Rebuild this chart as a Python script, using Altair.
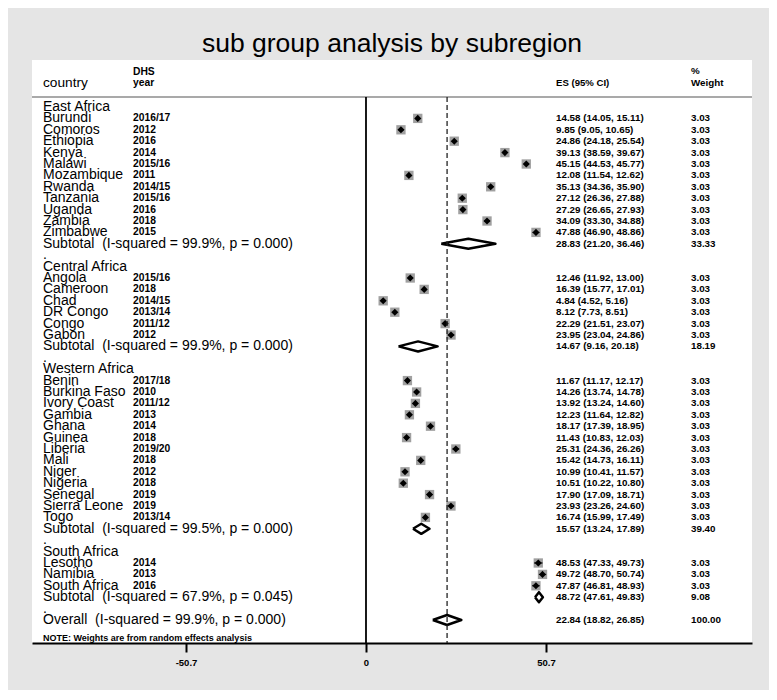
import altair as alt
import pandas as pd

FONT = "Liberation Sans"
TITLE = "sub group analysis by subregion"

# ---- data -------------------------------------------------------------------
east_countries = ["Burundi", "Comoros", "Ethiopia", "Kenya", "Malawi", "Mozambique",
                  "Rwanda", "Tanzania", "Uganda", "Zambia", "Zimbabwe"]
east_years = ["2016/17", "2012", "2016", "2014", "2015/16", "2011",
              "2014/15", "2015/16", "2016", "2018", "2015"]
east_es = [14.58, 9.85, 24.86, 39.13, 45.15, 12.08, 35.13, 27.12, 27.29, 34.09, 47.88]
east_lo = [14.05, 9.05, 24.18, 38.59, 44.53, 11.54, 34.36, 26.36, 26.65, 33.30, 46.90]
east_hi = [15.11, 10.65, 25.54, 39.67, 45.77, 12.62, 35.90, 27.88, 27.93, 34.88, 48.86]
east_w = [3.03, 3.03, 3.03, 3.03, 3.03, 3.03, 3.03, 3.03, 3.03, 3.03, 3.03]
east_sub = {"es": 28.83, "lo": 21.20, "hi": 36.46, "w": 33.33, "i2": "99.9", "p": "0.000"}

central_countries = ["Angola", "Cameroon", "Chad", "DR Congo", "Congo", "Gabon"]
central_years = ["2015/16", "2018", "2014/15", "2013/14", "2011/12", "2012"]
central_es = [12.46, 16.39, 4.84, 8.12, 22.29, 23.95]
central_lo = [11.92, 15.77, 4.52, 7.73, 21.51, 23.04]
central_hi = [13.00, 17.01, 5.16, 8.51, 23.07, 24.86]
central_w = [3.03, 3.03, 3.03, 3.03, 3.03, 3.03]
central_sub = {"es": 14.67, "lo": 9.16, "hi": 20.18, "w": 18.19, "i2": "99.9", "p": "0.000"}

west_countries = ["Benin", "Burkina Faso", "Ivory Coast", "Gambia", "Ghana", "Guinea",
                  "Liberia", "Mali", "Niger", "Nigeria", "Senegal", "Sierra Leone", "Togo"]
west_years = ["2017/18", "2010", "2011/12", "2013", "2014", "2018",
              "2019/20", "2018", "2012", "2018", "2019", "2019", "2013/14"]
west_es = [11.67, 14.26, 13.92, 12.23, 18.17, 11.43, 25.31, 15.42, 10.99, 10.51, 17.90, 23.93, 16.74]
west_lo = [11.17, 13.74, 13.24, 11.64, 17.39, 10.83, 24.36, 14.73, 10.41, 10.22, 17.09, 23.26, 15.99]
west_hi = [12.17, 14.78, 14.60, 12.82, 18.95, 12.03, 26.26, 16.11, 11.57, 10.80, 18.71, 24.60, 17.49]
west_w = [3.03, 3.03, 3.03, 3.03, 3.03, 3.03, 3.03, 3.03, 3.03, 3.03, 3.03, 3.03, 3.03]
west_sub = {"es": 15.57, "lo": 13.24, "hi": 17.89, "w": 39.40, "i2": "99.5", "p": "0.000"}

south_countries = ["Lesotho", "Namibia", "South Africa"]
south_years = ["2014", "2013", "2016"]
south_es = [48.53, 49.72, 47.87]
south_lo = [47.33, 48.70, 46.81]
south_hi = [49.73, 50.74, 48.93]
south_w = [3.03, 3.03, 3.03]
south_sub = {"es": 48.72, "lo": 47.61, "hi": 49.83, "w": 9.08, "i2": "67.9", "p": "0.045"}

overall = {"es": 22.84, "lo": 18.82, "hi": 26.85, "w": 100.00, "i2": "99.9", "p": "0.000"}

tick_values = [-50.7, 0, 50.7]
NOTE = "NOTE: Weights are from random effects analysis"

groups = [
    ("East Africa", east_countries, east_years, east_es, east_lo, east_hi, east_w, east_sub),
    ("Central Africa", central_countries, central_years, central_es, central_lo, central_hi, central_w, central_sub),
    ("Western Africa", west_countries, west_years, west_es, west_lo, west_hi, west_w, west_sub),
    ("South Africa", south_countries, south_years, south_es, south_lo, south_hi, south_w, south_sub),
]

# ---- build the row table ------------------------------------------------------
def ci_text(es, lo, hi):
    return f"{es:.2f} ({lo:.2f}, {hi:.2f})"

rows = []
poly = []
r = 0
for name, countries, years, es, lo, hi, w, sub in groups:
    rows.append(dict(row=r, label=name, year="", es_txt="", w_txt="", kind="head"))
    r += 1
    for c, y, e, l, h, ww in zip(countries, years, es, lo, hi, w):
        rows.append(dict(row=r, label=c, year=y, es_txt=ci_text(e, l, h), w_txt=f"{ww:.2f}",
                         kind="study", es=e, lo=l, hi=h))
        r += 1
    rows.append(dict(row=r, label=f"Subtotal\u00a0 (I-squared = {sub['i2']}%, p = {sub['p']})",
                     year="", es_txt=ci_text(sub["es"], sub["lo"], sub["hi"]),
                     w_txt=f"{sub['w']:.2f}", kind="sub"))
    poly.append((name, r, sub))
    r += 1
    rows.append(dict(row=r, label=".", year="", es_txt="", w_txt="", kind="dot"))
    r += 1

rows.append(dict(row=r, label=f"Overall\u00a0 (I-squared = {overall['i2']}%, p = {overall['p']})",
                 year="", es_txt=ci_text(overall["es"], overall["lo"], overall["hi"]),
                 w_txt=f"{overall['w']:.2f}", kind="overall"))
poly.append(("Overall", r, overall))
note_row = r + 1.6

table = pd.DataFrame(rows)
studies = table[table["kind"] == "study"].copy()

H = 0.44  # half height of diamonds, in rows
dpts = []
for name, rr, s in poly:
    pts = [(s["lo"], rr), (s["es"], rr - H), (s["hi"], rr), (s["es"], rr + H), (s["lo"], rr)]
    for k, (px, py) in enumerate(pts):
        dpts.append(dict(grp=name, k=k, px=px, py=py))
diamonds = pd.DataFrame(dpts)

# ---- scales ------------------------------------------------------------------
W, HGT = 720, 583
xscale = alt.Scale(domain=[-94.08, 108.73], nice=False, zero=False)
yscale = alt.Scale(domain=[-4.123, 47.018], reverse=True, nice=False, zero=False)
xaxis = alt.Axis(values=tick_values, grid=False, domainColor="black", domainWidth=2,
                 tickColor="black", tickWidth=2, tickSize=9, labelFont=FONT,
                 labelFontSize=9.5, labelFontWeight="bold", labelColor="black",
                 labelPadding=5, labelExpr="'' + datum.value", labelFlush=False,
                 labelOverlap=False)

def X(field):
    return alt.X(field, scale=xscale, axis=xaxis, title="")

def Y(field):
    return alt.Y(field, scale=yscale, axis=None)

one = pd.DataFrame({"v": [0]})

title_layer = alt.Chart(pd.DataFrame({"t": [TITLE]})).mark_text(
    align="center", baseline="alphabetic", font=FONT, fontSize=26.5, color="black"
).encode(x=alt.value(360), y=alt.value(-8), text="t:N")

def header(txt, x, y, size, weight="normal"):
    return alt.Chart(pd.DataFrame({"t": [txt]})).mark_text(
        align="left", baseline="middle", font=FONT, fontSize=size, fontWeight=weight, color="black"
    ).encode(x=alt.value(x), y=alt.value(y), text="t:N")

headers = [
    header("country", 11, 23, 13.7),
    header("DHS", 101, 12, 10.3, "bold"),
    header("year", 101, 23, 10.3, "bold"),
    header("ES (95% CI)", 524, 23, 9.6, "bold"),
    header("%", 659, 11, 9.8, "bold"),
    header("Weight", 659, 23, 9.8, "bold"),
]

header_rule = alt.Chart(one).mark_rule(color="#a9a9a9", strokeWidth=2).encode(
    x=alt.value(0), x2=alt.value(W), y=alt.value(37))

zero_line = alt.Chart(one).mark_rule(color="black", strokeWidth=1.8).encode(
    x=X("v:Q"), y=alt.value(37), y2=alt.value(HGT))

dash_line = alt.Chart(pd.DataFrame({"es": [overall["es"]]})).mark_rule(
    color="#222222", strokeWidth=1.3, strokeDash=[5, 3]
).encode(x=X("es:Q"), y=alt.value(37), y2=alt.value(HGT))

squares = alt.Chart(studies).mark_square(filled=True, color="#a0a0a0", size=87, opacity=1).encode(
    x=X("es:Q"), y=Y("row:Q"))
ci_rules = alt.Chart(studies).mark_rule(color="black", strokeWidth=1).encode(
    x=X("lo:Q"), x2="hi:Q", y=Y("row:Q"))
points = alt.Chart(studies).mark_point(shape="diamond", filled=True, color="black", size=50, opacity=1).encode(
    x=X("es:Q"), y=Y("row:Q"))

diamond_layer = alt.Chart(diamonds).mark_line(color="black", strokeWidth=2.5, strokeJoin="round").encode(
    x=X("px:Q"), y=Y("py:Q"), detail="grp:N", order=alt.Order("k:Q"))

def col_text(field, x, size, weight="normal"):
    return alt.Chart(table).mark_text(
        align="left", baseline="middle", font=FONT, fontSize=size, fontWeight=weight, color="black"
    ).encode(x=alt.value(x), y=Y("row:Q"), text=f"{field}:N")

labels = col_text("label", 11, 14)
years = col_text("year", 101, 10.3, "bold")
es_col = col_text("es_txt", 524, 9.8, "bold")
w_col = col_text("w_txt", 659, 9.8, "bold")

note = alt.Chart(pd.DataFrame({"t": [NOTE], "row": [note_row]})).mark_text(
    align="left", baseline="middle", font=FONT, fontSize=9, fontWeight="bold", color="black"
).encode(x=alt.value(11), y=Y("row:Q"), text="t:N")

chart = alt.layer(
    header_rule, zero_line, squares, ci_rules, points, diamond_layer, dash_line,
    labels, years, es_col, w_col, note, title_layer, *headers
).properties(
    width=W, height=HGT,
    autosize=alt.AutoSizeParams(type="none"),
    padding={"left": 24, "top": 52, "right": 17, "bottom": 47},
    background="#e5e5e5",
).configure_view(fill="white", strokeWidth=0)

chart.save("out.html", embed_options={"renderer": "svg", "actions": False})
